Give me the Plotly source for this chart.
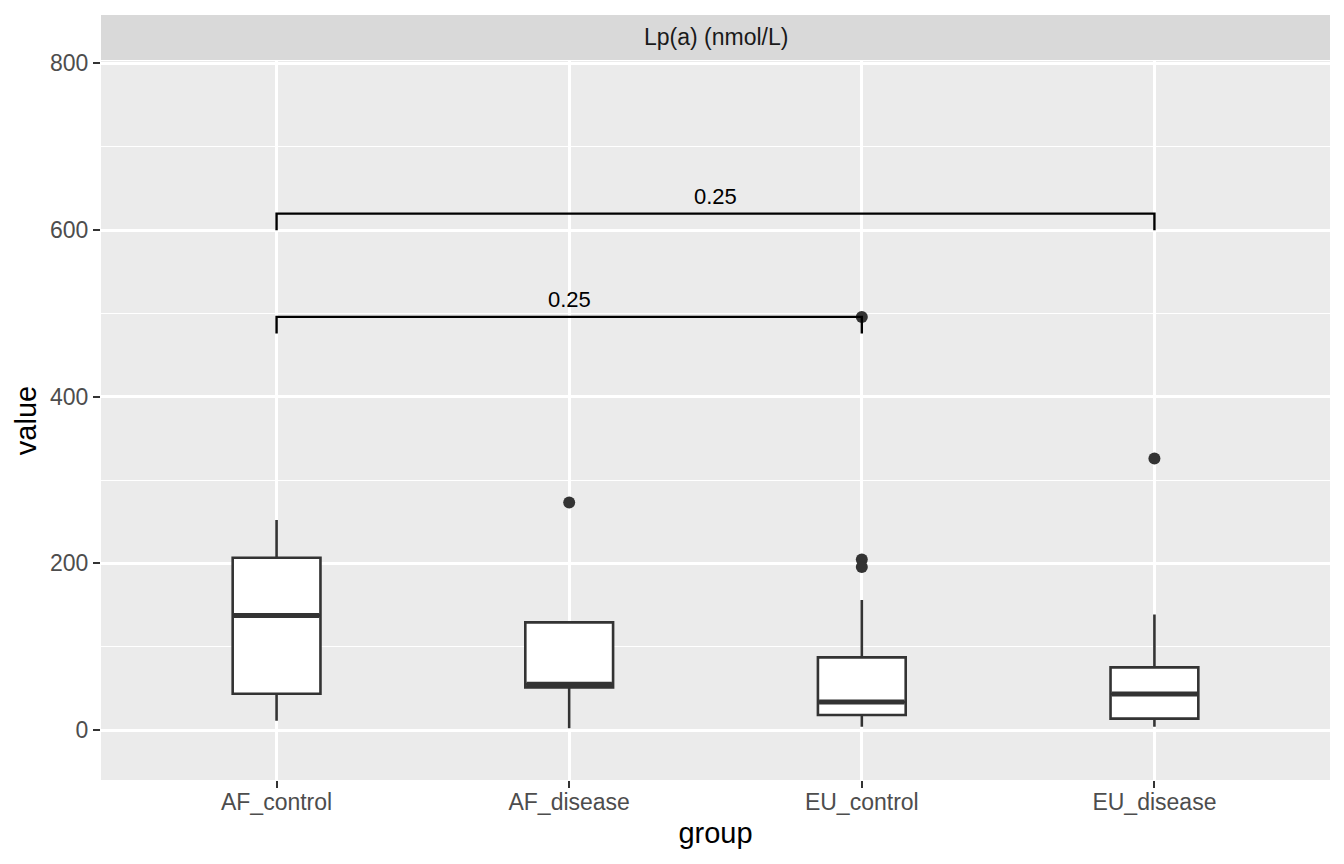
import plotly.graph_objects as go

# ---- data ----
groups = ["AF_control", "AF_disease", "EU_control", "EU_disease"]
q1 = [43.5, 51.2, 18.0, 13.6]
median = [137.5, 54.8, 33.6, 43.2]
q3 = [206.7, 129.2, 87.2, 75.2]
lower_whisker = [11.2, 2.0, 4.0, 4.0]
upper_whisker = [251.9, 129.2, 156.0, 138.7]
outlier_group = ["AF_disease", "EU_control", "EU_control", "EU_control", "EU_disease"]
outlier_value = [273.0, 204.7, 195.5, 495.7, 325.9]

# comparisons (group1, group2, bracket y, p label)
cmp_g1 = ["AF_control", "AF_control"]
cmp_g2 = ["EU_control", "EU_disease"]
cmp_y = [495.7, 619.7]
cmp_label = ["0.25", "0.25"]
tip_len = 20

facet_label = "Lp(a) (nmol/L)"
y_ticks = [0, 200, 400, 600, 800]

FONT = "Liberation Sans, Arial, Helvetica, sans-serif"
BOX_W = 0.3
pos = {g: i for i, g in enumerate(groups)}

fig = go.Figure()

for i, g in enumerate(groups):
    fig.add_trace(go.Box(
        x=[pos[g]], q1=[q1[i]], median=[median[i]], q3=[q3[i]],
        lowerfence=[lower_whisker[i]], upperfence=[upper_whisker[i]],
        width=BOX_W, whiskerwidth=0, boxpoints=False,
        fillcolor="white", line=dict(color="#333333", width=2.6),
        showlegend=False, hoverinfo="skip",
    ))
    # thicker median line as in ggplot
    fig.add_trace(go.Scatter(
        x=[pos[g] - BOX_W / 2 + 0.004, pos[g] + BOX_W / 2 - 0.004],
        y=[median[i], median[i]], mode="lines",
        line=dict(color="#333333", width=5), showlegend=False, hoverinfo="skip",
    ))

fig.add_trace(go.Scatter(
    x=[pos[g] for g in outlier_group], y=outlier_value, mode="markers",
    marker=dict(color="#333333", size=12), showlegend=False, hoverinfo="skip",
))

for a, b, yv, lab in zip(cmp_g1, cmp_g2, cmp_y, cmp_label):
    xa, xb = pos[a], pos[b]
    fig.add_trace(go.Scatter(
        x=[xa, xa, xb, xb], y=[yv - tip_len, yv, yv, yv - tip_len], mode="lines",
        line=dict(color="black", width=2.4), showlegend=False, hoverinfo="skip",
    ))
    fig.add_annotation(x=(xa + xb) / 2, y=yv, text=lab, showarrow=False,
                       yanchor="bottom", yshift=3,
                       font=dict(family=FONT, size=22, color="black"))

# facet strip
strip_h = 46 / 719
fig.add_shape(type="rect", xref="paper", yref="paper", x0=0, x1=1,
              y0=1.0015, y1=1 + strip_h, fillcolor="#D9D9D9", line=dict(width=0),
              layer="below")
fig.add_annotation(xref="paper", yref="paper", x=0.5, y=1 + strip_h / 2 + 0.001,
                   text=facet_label, showarrow=False, yanchor="middle",
                   font=dict(family=FONT, size=23, color="#1A1A1A"))

fig.update_layout(
    width=1328, height=848,
    margin=dict(l=93, r=6, t=53, b=76),
    paper_bgcolor="white", plot_bgcolor="#EBEBEB",
    font=dict(family=FONT),
    showlegend=False,
)
fig.update_xaxes(
    range=[-0.6, 3.6], tickvals=list(range(len(groups))), ticktext=groups,
    showgrid=True, gridcolor="white", gridwidth=2.7, zeroline=False,
    ticks="outside", ticklen=7, tickwidth=2.2, tickcolor="#333333",
    ticklabelstandoff=-6,
    tickfont=dict(family=FONT, size=23, color="#4D4D4D"),
    title=dict(text="group", font=dict(family=FONT, size=29, color="black"), standoff=9),
    showline=False,
)
fig.update_yaxes(
    range=[-60, 802.8], tickvals=y_ticks,
    showgrid=True, gridcolor="white", gridwidth=2.7, zeroline=False,
    minor=dict(dtick=100, tick0=0, showgrid=True, gridcolor="white", gridwidth=1.4, ticks=""),
    ticks="outside", ticklen=7, tickwidth=2.2, tickcolor="#333333",
    tickfont=dict(family=FONT, size=23, color="#4D4D4D"),
    title=dict(text="value", font=dict(family=FONT, size=29, color="black"), standoff=4),
    showline=False,
)

fig.write_html("out.html")
